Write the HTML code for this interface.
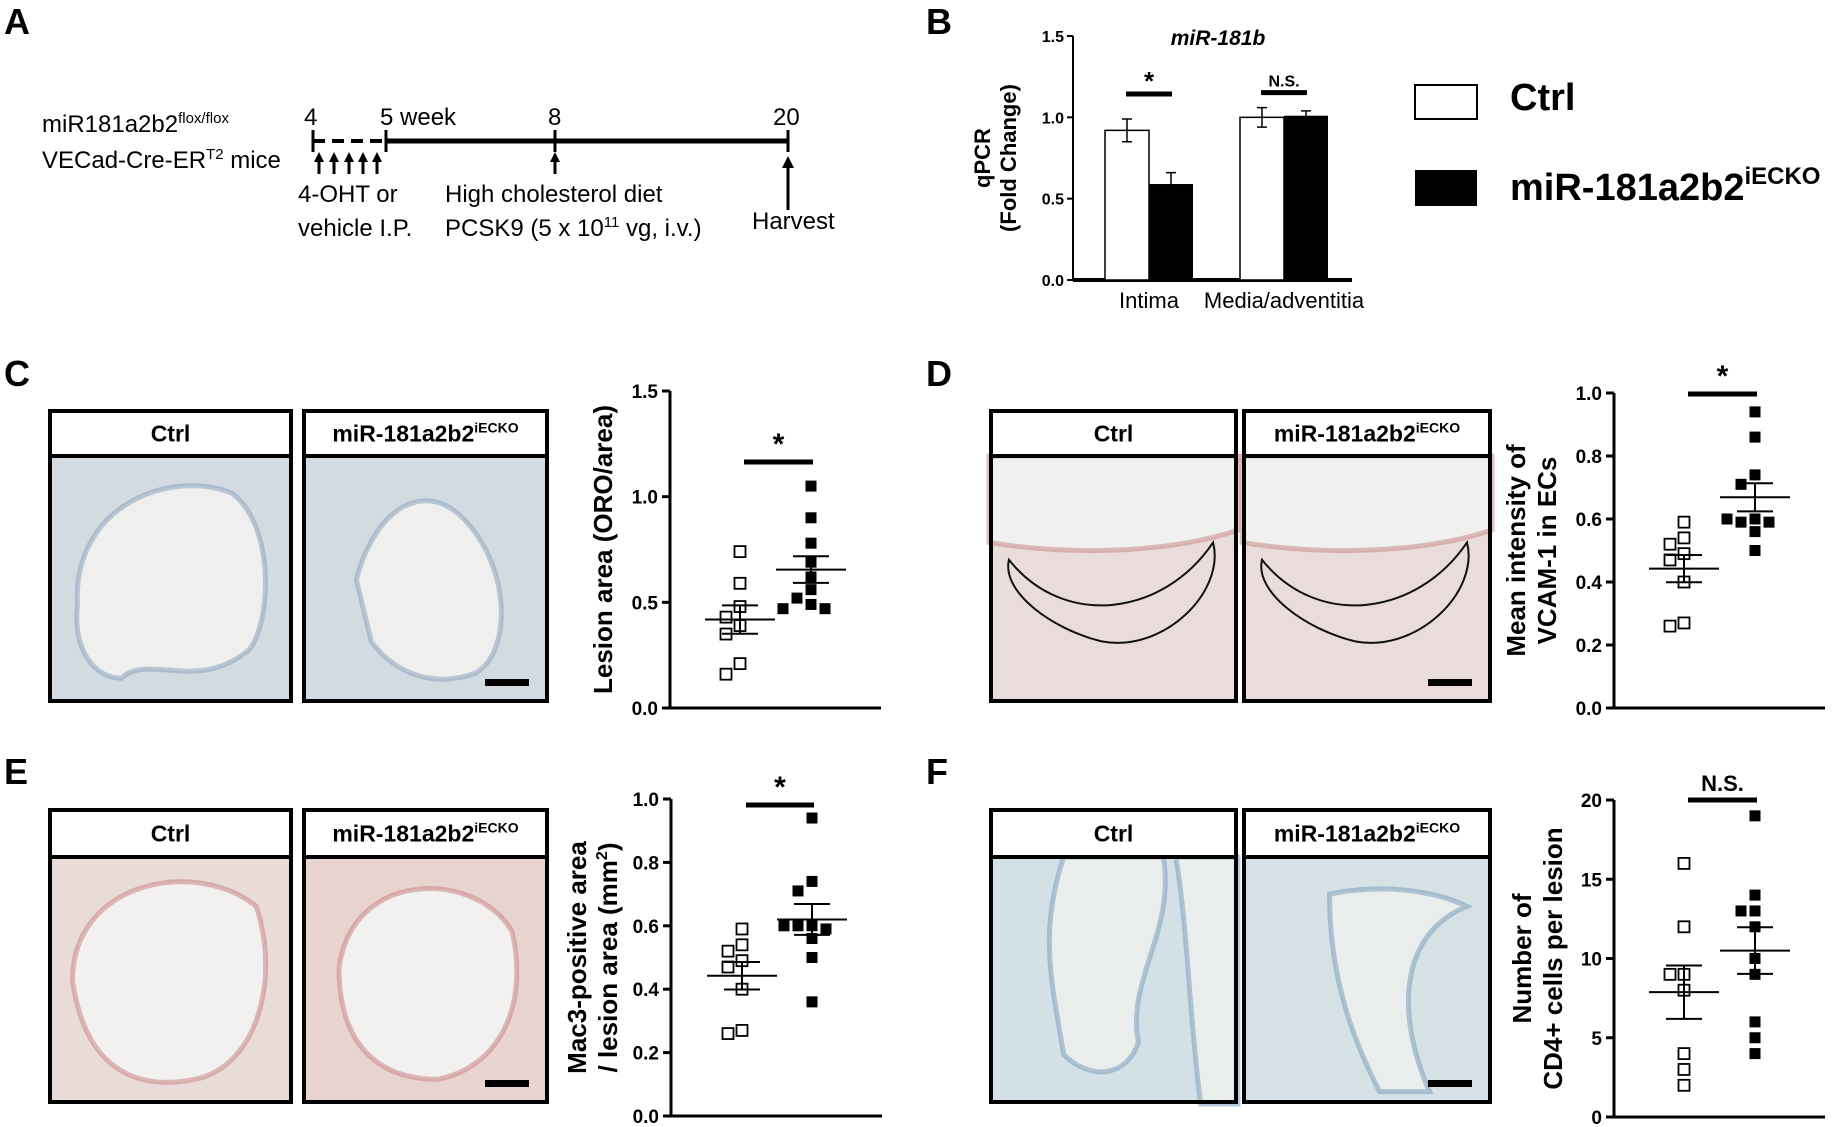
<!DOCTYPE html>
<html><head><meta charset="utf-8">
<style>
html,body{margin:0;padding:0;background:#fff;}
svg{display:block;font-family:"Liberation Sans",Arial,sans-serif;}
.b{font-weight:bold;}
</style></head>
<body>
<svg id="fig" width="1836" height="1127" viewBox="0 0 1836 1127" xmlns="http://www.w3.org/2000/svg">

<!-- Panel labels -->
<g class="b" font-size="36">
<text x="4" y="34">A</text>
<text x="926" y="34">B</text>
<text x="4" y="386">C</text>
<text x="926" y="386">D</text>
<text x="4" y="784">E</text>
<text x="926" y="784">F</text>
</g>

<!-- Panel A timeline -->
<g font-size="24">
<text x="42" y="132">miR181a2b2<tspan font-size="15" dy="-9">flox/flox</tspan></text>
<text x="42" y="168">VECad-Cre-ER<tspan font-size="15" dy="-9">T2</tspan><tspan dy="9"> mice</tspan></text>
<line x1="313" y1="141" x2="386" y2="141" stroke="#000" stroke-width="4" stroke-dasharray="12,7"/>
<line x1="386" y1="141" x2="788" y2="141" stroke="#000" stroke-width="5"/>
<g stroke="#000" stroke-width="3">
<line x1="313" y1="130" x2="313" y2="152"/><line x1="386" y1="130" x2="386" y2="152"/>
<line x1="555" y1="130" x2="555" y2="152"/><line x1="788" y1="130" x2="788" y2="152"/>
</g>
<text x="304" y="125">4</text>
<text x="380" y="125">5 week</text>
<text x="548" y="125">8</text>
<text x="773" y="125">20</text>
<g>
<path d="M319,174V160M334,174V160M349,174V160M363,174V160M377,174V160M555,174V160M788,210V166" stroke="#000" stroke-width="3" fill="none"/>
<path d="M314,162L319,152L324,162ZM329,162L334,152L339,162ZM344,162L349,152L354,162ZM358,162L363,152L368,162ZM372,162L377,152L382,162ZM550,162L555,152L560,162ZM782,168L788,156L794,168Z" fill="#000"/>
</g>
<text x="298" y="202">4-OHT or</text>
<text x="298" y="236">vehicle I.P.</text>
<text x="445" y="202">High cholesterol diet</text>
<text x="445" y="236">PCSK9 (5 x 10<tspan font-size="15" dy="-9">11</tspan><tspan dy="9"> vg, i.v.)</tspan></text>
<text x="752" y="229">Harvest</text>
</g>

<!-- Panel B bar chart -->
<g id="chartB"></g>
<!-- Legend -->
<g>
<rect x="1415" y="85" width="62" height="34" fill="#fff" stroke="#000" stroke-width="2"/>
<text x="1510" y="110" class="b" font-size="38">Ctrl</text>
<rect x="1415" y="170" width="62" height="36" fill="#000"/>
<text x="1510" y="200" class="b" font-size="38">miR-181a2b2<tspan font-size="24" dy="-16">iECKO</tspan></text>
</g>

<!-- Histology panels -->
<g id="histo"></g>

<!-- Scatter charts -->
<g id="chartC"></g>
<g id="chartD"></g>
<g id="chartE"></g>
<g id="chartF"></g>
</svg>

<script>
// ---------- DATA ----------
const bCategories = ["Intima", "Media/adventitia"];
const bCtrlValues = [0.92, 1.00];
const bCtrlErrors = [0.07, 0.06];
const bKoValues = [0.59, 1.01];
const bKoErrors = [0.07, 0.03];
const bTicks = ["0.0", "0.5", "1.0", "1.5"];
const bSignif = ["*", "N.S."];

const cCtrl = [0.74, 0.59, 0.48, 0.43, 0.39, 0.35, 0.21, 0.16];
const cKo = [1.05, 0.90, 0.78, 0.69, 0.62, 0.56, 0.52, 0.49, 0.47, 0.47];
const cTicks = ["0.0", "0.5", "1.0", "1.5"];

const dCtrl = [0.59, 0.54, 0.52, 0.49, 0.47, 0.40, 0.27, 0.26];
const dKo = [0.94, 0.86, 0.74, 0.71, 0.60, 0.59, 0.59, 0.60, 0.56, 0.50];
const dTicks = ["0.0", "0.2", "0.4", "0.6", "0.8", "1.0"];

const eCtrl = [0.59, 0.54, 0.52, 0.49, 0.47, 0.40, 0.27, 0.26];
const eKo = [0.94, 0.74, 0.71, 0.60, 0.60, 0.59, 0.60, 0.56, 0.50, 0.36];
const eTicks = ["0.0", "0.2", "0.4", "0.6", "0.8", "1.0"];

const fCtrl = [16, 12, 9, 9, 8, 4, 3, 2];
const fKo = [19, 14, 13, 13, 12, 10, 9, 6, 5, 4];
const fTicks = ["0", "5", "10", "15", "20"];

// ---------- HELPERS ----------
const NS = "http://www.w3.org/2000/svg";
function mk(parent, tag, attrs, text) {
  const el = document.createElementNS(NS, tag);
  for (const k in attrs) el.setAttribute(k, attrs[k]);
  if (text !== undefined) el.textContent = text;
  parent.appendChild(el);
  return el;
}
function mean(a){return a.reduce((s,v)=>s+v,0)/a.length;}
function sem(a){const m=mean(a);const sd=Math.sqrt(a.reduce((s,v)=>s+(v-m)*(v-m),0)/(a.length-1));return sd/Math.sqrt(a.length);}

// ---------- PANEL B ----------
(function(){
  const g = document.getElementById("chartB");
  const x0 = 1073, x1 = 1352, yTop = 36, yBot = 280, vmax = 1.5;
  const y = v => yBot - (v / vmax) * (yBot - yTop);
  const groupX = [1149, 1284];
  const bw = 44;
  const ax = mk(g, "line", {x1:x0, y1:yTop, x2:x0, y2:yBot, stroke:"#000", "stroke-width":2});
  
  
  const xa = mk(g, "line", {x1:x0, y1:yBot, x2:x1, y2:yBot, stroke:"#000", "stroke-width":4});
  
  
  bTicks.forEach(t => {
    const yy = y(parseFloat(t));
    mk(g, "line", {x1:x0-6, y1:yy, x2:x0, y2:yy, stroke:"#000", "stroke-width":2});
    const tl = mk(g, "text", {x:x0-9, y:yy+6, "text-anchor":"end", "font-size":16, "font-weight":"bold"}, t);
    
    
  });
  bCategories.forEach((c, i) => {
    const gx = groupX[i];
    const r1 = mk(g, "rect", {x:gx-bw, y:y(bCtrlValues[i]), width:bw, height:yBot-y(bCtrlValues[i]), fill:"#fff", stroke:"#000", "stroke-width":1.5});
    
    
    const r2 = mk(g, "rect", {x:gx, y:y(bKoValues[i]), width:bw, height:yBot-y(bKoValues[i]), fill:"#000"});
    
    
    [[gx-bw/2, bCtrlValues[i], bCtrlErrors[i]], [gx+bw/2, bKoValues[i], bKoErrors[i]]].forEach(([cx, v, e]) => {
      mk(g, "path", {d:`M${cx},${y(v-e)}V${y(v+e)}M${cx-5},${y(v+e)}H${cx+5}M${cx-5},${y(v-e)}H${cx+5}`, stroke:"#000", "stroke-width":1.5, fill:"none"});
    });
    const top = Math.max(bCtrlValues[i]+bCtrlErrors[i], bKoValues[i]+bKoErrors[i]);
    const sy = y(top) - (i===0 ? 25 : 15);
    mk(g, "line", {x1:gx-23, y1:sy, x2:gx+23, y2:sy, stroke:"#000", "stroke-width":5});
    const st = mk(g, "text", {x:gx, y:sy - (i===0?4:6), "text-anchor":"middle", "font-size": i===0?26:16, "font-weight":"bold"}, bSignif[i]);
    
    
    const cl = mk(g, "text", {x:gx, y:308, "text-anchor":"middle", "font-size":22}, c);
    
    
  });
  const ti = mk(g, "text", {x:1218, y:45, "text-anchor":"middle", "font-size":21, "font-weight":"bold", "font-style":"italic"}, "miR-181b");
  
  
  const yl = mk(g, "text", {transform:"translate(990,158) rotate(-90)", "text-anchor":"middle", "font-size":22, "font-weight":"bold"});
  
  
  mk(yl, "tspan", {x:0, dy:0}, "qPCR");
  mk(yl, "tspan", {x:0, dy:26}, "(Fold Change)");
})();

// ---------- SCATTER ----------
function scatter(id, ctrl, ko, ticks, vmax, L) {
  const g = document.getElementById(id);
  const y = v => L.yBot - (v / vmax) * (L.yBot - L.yTop);
  const ax = mk(g, "line", {x1:L.x0, y1:L.yTop, x2:L.x0, y2:L.yBot, stroke:"#000", "stroke-width":3});
  
  
  const xa = mk(g, "line", {x1:L.x0-8, y1:L.yBot, x2:L.x1, y2:L.yBot, stroke:"#000", "stroke-width":3});
  
  
  ticks.forEach(t => {
    const yy = y(parseFloat(t));
    mk(g, "line", {x1:L.x0-8, y1:yy, x2:L.x0, y2:yy, stroke:"#000", "stroke-width":3});
    const tl = mk(g, "text", {x:L.x0-12, y:yy+7, "text-anchor":"end", "font-size":19, "font-weight":"bold"}, t);
    
    
  });
  const yl = mk(g, "text", {transform:`translate(${L.labX},${(L.yTop+L.yBot)/2}) rotate(-90)`, "text-anchor":"middle", "font-size":26, "font-weight":"bold"});
  
  
  L.label.forEach((s, i) => {
    const ts = mk(yl, "tspan", {x:0, dy: i===0 ? 0 : 31});
    ts.innerHTML = s;
  });
  [[ctrl, L.cx1, false], [ko, L.cx2, true]].forEach(([arr, cx, filled]) => {
    const placed = [];
    arr.forEach(v => {
      const py = y(v);
      const cands = [0, -14, 14, -28, 28, -42, 42];
      let off = 0;
      for (const c of cands) {
        if (!placed.some(p => Math.abs(p[1]-py) < 11 && Math.abs(p[0]-c) < 13)) { off = c; break; }
      }
      placed.push([off, py]);
      const r = mk(g, "rect", {x:cx+off-5.5, y:py-5.5, width:11, height:11, fill: filled ? "#000" : "#fff", stroke:"#000", "stroke-width": filled ? 0 : 1.8});
      
      
    });
    const m = mean(arr), s = sem(arr);
    const ml = mk(g, "path", {d:`M${cx-35},${y(m)}H${cx+35}M${cx},${y(m-s)}V${y(m+s)}M${cx-18},${y(m+s)}H${cx+18}M${cx-18},${y(m-s)}H${cx+18}`, stroke:"#000", "stroke-width":2, fill:"none"});
    
    
  });
  const sb = mk(g, "line", {x1:L.cx1+4, y1:L.sigY, x2:L.cx2+2, y2:L.sigY, stroke:"#000", "stroke-width":5});
  
  
  const st = mk(g, "text", {x:(L.cx1+L.cx2)/2+3, y: L.sigText==="*" ? L.sigY-8 : L.sigY-9, "text-anchor":"middle", "font-size": L.sigText==="*" ? 30 : 22, "font-weight":"bold"}, L.sigText);
  
  
}
scatter("chartC", cCtrl, cKo, cTicks, 1.5, {x0:670, x1:881, yTop:391, yBot:708, cx1:740, cx2:811, labX:612, label:["Lesion area (ORO/area)"], sigY:462, sigText:"*"});
scatter("chartD", dCtrl, dKo, dTicks, 1.0, {x0:1614, x1:1825, yTop:393, yBot:708, cx1:1684, cx2:1755, labX:1525, label:["Mean intensity of","VCAM-1 in ECs"], sigY:394, sigText:"*"});
scatter("chartE", eCtrl, eKo, eTicks, 1.0, {x0:671, x1:882, yTop:799, yBot:1116, cx1:742, cx2:812, labX:586, label:["Mac3-positive area","/ lesion area (mm<tspan font-size='16' dy='-10'>2</tspan><tspan dy='10'>)</tspan>"], sigY:805, sigText:"*"});
scatter("chartF", fCtrl, fKo, fTicks, 20, {x0:1614, x1:1825, yTop:800, yBot:1117, cx1:1684, cx2:1755, labX:1531, label:["Number of","CD4+ cells per lesion"], sigY:800, sigText:"N.S."});

// ---------- HISTOLOGY ----------
(function(){
  const g = document.getElementById("histo");
  const frames = [
    {x:48, y:409, w:245, h:294, hh:47, title:"Ctrl", bg:"#d3dbe2", lum:"#efefee", st:"#8aa2bb", kind:"c1"},
    {x:302, y:409, w:247, h:294, hh:47, title:"KO", bg:"#d3dbe2", lum:"#efefee", st:"#8aa2bb", kind:"c2"},
    {x:989, y:409, w:249, h:294, hh:47, title:"Ctrl", bg:"#ebdcdc", lum:"#f0f0ef", st:"#c98a8a", kind:"d1"},
    {x:1242, y:409, w:250, h:294, hh:47, title:"KO", bg:"#ebdcdc", lum:"#f0f0ef", st:"#c98a8a", kind:"d2"},
    {x:48, y:808, w:245, h:296, hh:49, title:"Ctrl", bg:"#e8dbd8", lum:"#f2f1f0", st:"#c98585", kind:"e1"},
    {x:302, y:808, w:247, h:296, hh:49, title:"KO", bg:"#e8d3cf", lum:"#f2f1f0", st:"#c98585", kind:"e2"},
    {x:989, y:808, w:249, h:296, hh:49, title:"Ctrl", bg:"#d3e0e5", lum:"#e9edeb", st:"#7d9fbd", kind:"f1"},
    {x:1242, y:808, w:250, h:296, hh:49, title:"KO", bg:"#d5e1e5", lum:"#e9edeb", st:"#7d9fbd", kind:"f2"}
  ];
  frames.forEach(f => {
    const fg = mk(g, "g", {});
    
    
    const ix = f.x, iy = f.y + f.hh, iw = f.w, ih = f.h - f.hh;
    mk(fg, "rect", {x:ix, y:iy, width:iw, height:ih, fill:f.bg});
    let d;
    const X = p => ix + p*iw, Y = p => iy + p*ih;
    if (f.kind==="c1") d = `M${X(.12)},${Y(.6)} C${X(.1)},${Y(.2)} ${X(.5)},${Y(.05)} ${X(.75)},${Y(.15)} C${X(.95)},${Y(.3)} ${X(.9)},${Y(.75)} ${X(.8)},${Y(.8)} C${X(.6)},${Y(.95)} ${X(.4)},${Y(.8)} ${X(.3)},${Y(.9)} C${X(.2)},${Y(.9)} ${X(.1)},${Y(.8)} ${X(.12)},${Y(.6)}Z`;
    else if (f.kind==="c2") d = `M${X(.22)},${Y(.5)} C${X(.3)},${Y(.2)} ${X(.5)},${Y(.1)} ${X(.65)},${Y(.25)} C${X(.85)},${Y(.45)} ${X(.85)},${Y(.8)} ${X(.7)},${Y(.88)} C${X(.5)},${Y(.95)} ${X(.35)},${Y(.85)} ${X(.28)},${Y(.75)} Z`;
    else if (f.kind==="d1"||f.kind==="d2") d = `M${ix},${iy} H${ix+iw} V${Y(.3)} C${X(.7)},${Y(.4)} ${X(.3)},${Y(.4)} ${ix},${Y(.35)} Z`;
    else if (f.kind==="e1") d = `M${X(.1)},${Y(.5)} C${X(.1)},${Y(.1)} ${X(.6)},${Y(.0)} ${X(.85)},${Y(.2)} C${X(.95)},${Y(.5)} ${X(.85)},${Y(.85)} ${X(.6)},${Y(.9)} C${X(.35)},${Y(.95)} ${X(.15)},${Y(.85)} ${X(.1)},${Y(.5)}Z`;
    else if (f.kind==="e2") d = `M${X(.15)},${Y(.45)} C${X(.2)},${Y(.05)} ${X(.7)},${Y(.05)} ${X(.85)},${Y(.3)} C${X(.92)},${Y(.6)} ${X(.8)},${Y(.85)} ${X(.55)},${Y(.9)} C${X(.3)},${Y(.9)} ${X(.15)},${Y(.75)} ${X(.15)},${Y(.45)}Z`;
    else if (f.kind==="f1") d = `M${X(.3)},${iy} H${X(.7)} C${X(.75)},${Y(.3)} ${X(.55)},${Y(.5)} ${X(.6)},${Y(.75)} C${X(.55)},${Y(.9)} ${X(.4)},${Y(.9)} ${X(.3)},${Y(.8)} C${X(.25)},${Y(.5)} ${X(.2)},${Y(.3)} ${X(.3)},${iy}Z M${X(.75)},${iy} H${ix+iw} V${ih+iy} H${X(.85)} C${X(.8)},${Y(.6)} ${X(.8)},${Y(.3)} ${X(.75)},${iy}Z`;
    else d = `M${X(.35)},${Y(.15)} C${X(.6)},${Y(.1)} ${X(.8)},${Y(.15)} ${X(.9)},${Y(.2)} C${X(.65)},${Y(.3)} ${X(.6)},${Y(.6)} ${X(.75)},${Y(.95)} H${X(.55)} C${X(.45)},${Y(.75)} ${X(.35)},${Y(.5)} ${X(.35)},${Y(.15)}Z`;
    mk(fg, "path", {d:d, fill:f.lum, stroke:f.st, "stroke-width":5, "stroke-opacity":0.55});
    if (f.kind==="d1"||f.kind==="d2") {
      mk(fg, "path", {d:`M${X(.08)},${Y(.42)} C${X(.3)},${Y(.7)} ${X(.7)},${Y(.65)} ${X(.9)},${Y(.35)} C${X(.95)},${Y(.55)} ${X(.7)},${Y(.8)} ${X(.45)},${Y(.75)} C${X(.25)},${Y(.7)} ${X(.05)},${Y(.55)} ${X(.08)},${Y(.42)}Z`, fill:"none", stroke:"#111", "stroke-width":2});
    }
    if (f.kind.endsWith("2")) mk(fg, "rect", {x:ix+iw-64, y:iy+ih-24, width:44, height:7, fill:"#000"});
    mk(fg, "rect", {x:f.x+2, y:f.y+2, width:f.w-4, height:f.hh-2, fill:"#fff"});
    mk(fg, "rect", {x:f.x+2, y:f.y+2, width:f.w-4, height:f.h-4, fill:"none", stroke:"#000", "stroke-width":4});
    mk(fg, "line", {x1:f.x, y1:f.y+f.hh, x2:f.x+f.w, y2:f.y+f.hh, stroke:"#000", "stroke-width":4});
    const t = mk(fg, "text", {x:f.x+f.w/2, y:f.y+f.hh/2+9, "text-anchor":"middle", "font-size":23, "font-weight":"bold"});
    
    
    if (f.title==="Ctrl") t.textContent = "Ctrl";
    else t.innerHTML = "miR-181a2b2<tspan font-size='14' dy='-9'>iECKO</tspan>";
  });
})();
</script>
</body></html>
